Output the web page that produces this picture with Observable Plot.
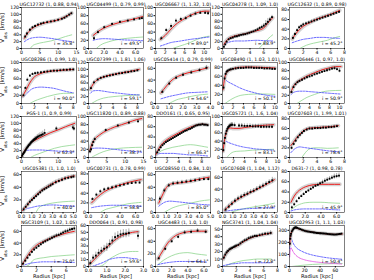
<!DOCTYPE html>
<html><head><meta charset="utf-8">
<script src="https://cdn.jsdelivr.net/npm/d3@7"></script>
<script src="https://cdn.jsdelivr.net/npm/@observablehq/plot@0.6"></script>
<style>
body{margin:0;background:#fff;}
#chart{position:relative;width:374px;height:280px;font-family:"DejaVu Sans",sans-serif;overflow:hidden;background:#fff}
.pn{position:absolute}
.ylab{position:absolute;font-size:5.4px;white-space:nowrap;transform:translate(-50%,-50%) rotate(-90deg);line-height:1}
.ylab sub{font-size:4px}
</style></head><body><div id="chart"></div><script>
const names = ["UGC12732 (1, 0.88, 0.94)","UGC04499 (1, 0.79, 0.99)","UGC06667 (1, 1.32, 1.0)","UGC04278 (1, 1.09, 1.0)","UGC12632 (1, 0.89, 0.98)",
"UGC08286 (1, 0.99, 1.0)","UGC07399 (1, 1.81, 1.06)","UGC05414 (1, 0.79, 0.99)","UGC08490 (1, 1.03, 1.01)","UGC06446 (1, 0.97, 1.0)",
"PGS-1 (1, 0.9, 0.99)","UGC11820 (1, 0.89, 0.88)","DDO161 (1, 0.65, 0.95)","UGC05721 (1, 1.6, 1.04)","UGC07603 (1, 1.99, 1.01)",
"UGC05381 (1, 1.0, 1.0)","UGC00731 (1, 0.78, 0.99)","UGC08550 (1, 0.84, 1.0)","UGC07608 (1, 1.04, 1.12)","D631-7 (1, 0.98, 0.78)",
"NGC3109 (1, 1.02, 1.05)","DDO064 (1, 0.91, 0.98)","UGC4483 (1, 1.0, 1.0)","NGC3741 (1, 1.04, 1.04)","UGC02953 (1, 1.1, 1.03)"];
const incl = [35.8,49.5,89.0,88.9,45.2, 90.0,59.1,54.6,50.1,50.9, 62.3,38.7,66.3,83.1,78.4, 40.0,58.8,85.0,27.9,45.9, 75.0,59.6,64.1,72.8,50.4];
const xDom = [[0,15],[0,7],[0,11.3],[0,8],[0,8], [0,8.5],[0,9],[0,4],[0,10.5],[0,11], [0,15],[0,15],[0,9.5],[0,10],[0,8], [0,5.3],[0,7],[0,5],[0,5.3],[0,7], [0,7.4],[0,3],[0,6.8],[0,8],[0,72]];
const xTicks = [[0,5,10,15],[0,2,4,6],[0,2,4,6,8,10],[0,2,4,6,8],[0,2,4,6,8], [0,2,4,6,8],[0,2,4,6,8],[0,1,2,3,4],[0,2,4,6,8,10],[0,2,4,6,8,10], [0,5,10,15],[0,5,10,15],[0,2,4,6,8],[0,2,4,6,8,10],[0,2,4,6,8], [0,1,2,3,4,5],[0,2,4,6],[0,1,2,3,4,5],[0,1,2,3,4,5],[0,2,4,6], [0,2,4,6],[0,1,2,3],[0,2,4,6],[0,2,4,6,8],[0,20,40,60]];
const yDom = [[0,120],[0,100],[0,100],[0,120],[0,85], [0,100],[0,120],[0,70],[0,90],[0,100], [0,120],[0,100],[0,80],[0,100],[0,85], [0,65],[0,85],[0,65],[0,70],[0,80], [0,70],[0,60],[0,65],[0,55],[0,340]];
const yTicks = [[0,20,40,60,80,100,120],[0,20,40,60,80,100],[0,20,40,60,80,100],[0,20,40,60,80,100,120],[0,20,40,60,80],
[0,20,40,60,80,100],[0,20,40,60,80,100,120],[0,20,40,60],[0,20,40,60,80],[0,20,40,60,80,100],
[0,20,40,60,80,100,120],[0,20,40,60,80,100],[0,20,40,60,80],[0,20,40,60,80,100],[0,20,40,60,80],
[0,20,40,60],[0,20,40,60,80],[0,20,40,60],[0,20,40,60],[0,20,40,60,80],
[0,20,40,60],[0,10,20,30,40,50,60],[0,20,40,60],[0,10,20,30,40,50],[0,100,200,300]];

// observed points: [radius, velocity, error]
const obs = [
[[1,35,3],[1.5,44,3],[2.3,55,3],[3,62,3],[3.7,66,3],[4.5,70,3],[5.3,73,3],[6,75,3],[7,77,3],[8,79,3],[9,81,3],[10,84,3],[11,87,3],[11.7,90,3],[12.3,94,3],[13,99,3],[13.6,103,3]],
[[0.7,25,5],[1.2,40,4],[2,52,3],[3,60,3],[4,65,3],[5,68,3],[5.8,71,3],[6.5,73,3],[6.8,74,3]],
[[1.2,25,4],[2.2,45,4],[3.2,55,5],[4.2,68,4],[5.2,72,4],[6.2,74,4],[7.2,80,4],[8.2,85,4],[9.2,87,4],[10.2,87,4],[10.8,86,4]],
[[0.2,5,3],[0.4,12,3],[0.6,20,3],[0.9,27,3],[1.2,30,3],[1.5,32,3],[1.8,35,3],[2.1,36,3],[2.4,38,3],[2.7,40,3],[3,41,3],[3.3,42,3],[3.6,44,3],[3.9,46,3],[4.2,48,3],[4.5,50,3],[4.8,53,3],[5.1,56,4],[5.4,60,4],[5.7,63,5],[6,67,6],[6.3,72,10],[6.6,78,10],[6.9,85,6],[7.2,92,5]],
[[0.5,22,4],[0.8,30,3],[1.1,38,3],[1.4,44,3],[1.7,47,3],[2,50,3],[2.4,52,3],[2.8,54,3],[3.2,56,3],[3.6,58,3],[4,60,3],[4.4,62,3],[4.8,64,3],[5.2,66,3],[5.6,68,3],[6,70,3],[6.4,72,3],[6.8,74,3],[7.2,76,3]],
[[0.3,20,3],[0.6,38,3],[0.9,58,4],[1.3,68,3],[1.7,72,3],[2.1,74,3],[2.5,75,3],[3,76,3],[3.5,77,3],[4,78,3],[4.5,79,3],[5,80,3],[5.5,80,3],[6,81,3],[6.5,82,3],[7,82,3],[7.5,83,3],[8,83,3]],
[[0.4,45,4],[0.9,62,4],[1.5,70,3],[2,75,3],[2.5,78,3],[3,80,3],[3.5,82,3],[4,84,3],[4.5,86,3],[5,88,3],[5.5,89,3],[6,91,3],[6.5,92,3],[7,94,3],[7.5,95,3],[8,97,3]],
[[0.5,20,3],[1,34,3],[1.5,44,3],[2,49,3],[2.6,53,3],[3.2,57,3],[3.7,61,4]],
[[0.2,35,4],[0.4,55,4],[0.6,65,4],[0.8,70,3],[1,72,3],[1.3,74,3],[1.6,75,3],[2,76,3],[2.5,77,3],[3,78,3],[3.5,78,3],[4,78,3],[4.5,79,3],[5,79,3],[5.5,79,3],[6,78,3],[6.5,78,3],[7,78,3],[7.5,78,3],[8,77,3],[8.5,77,3],[9,77,3],[9.5,76,3],[10,76,3]],
[[0.4,28,4],[0.8,40,4],[1.2,47,3],[1.6,52,3],[2,55,3],[2.5,58,3],[3,61,3],[3.5,64,3],[4,66,3],[4.5,68,3],[5,71,3],[5.5,73,3],[6,75,3],[6.5,77,3],[7,79,3],[7.5,81,4],[8,83,4],[8.5,85,4],[9,86,4],[9.5,84,5],[10,80,5]],
[[0.2,5,3],[0.4,10,3],[0.6,13,3],[0.8,16,3],[1,20,3],[1.2,23,3],[1.4,27,3],[1.6,30,3],[1.8,33,4],[2,36,4],[2.2,38,4],[2.4,41,4],[2.6,44,4],[2.8,46,5],[3,48,5],[3.2,50,5],[3.4,52,5],[3.6,54,6],[3.8,55,6],[4,57,6],[4.3,60,7],[4.6,62,7],[5,64,8],[5.4,66,8],[5.8,68,9],[6.3,72,10],[9.5,85,5],[14,88,8],[14.3,85,8]],
[[0.4,15,5],[0.7,20,5],[1,30,5],[1.3,38,4],[1.7,45,4],[4.7,67,3],[8,78,3],[11,85,3],[13.5,88,4]],
[[0.3,10,3],[0.6,15,3],[0.9,20,3],[1.2,24,2],[1.5,27,2],[1.8,30,2],[2.1,32,2],[2.4,34,2],[2.7,36,2],[3,38,2],[3.3,40,2],[3.6,42,2],[3.9,44,2],[4.2,46,2],[4.5,48,2],[4.8,50,2],[5.1,52,2],[5.4,53,2],[5.7,55,2],[6,56,2],[6.3,58,2],[6.6,60,2],[6.9,62,2],[7.2,63,2],[7.5,64,2],[7.8,64,2],[8.1,65,2],[8.4,64,2],[8.7,64,2],[9,63,2]],
[[0.15,18,5],[0.3,35,5],[0.45,48,5],[0.6,58,5],[0.75,65,5],[0.9,70,5],[1.05,74,5],[1.2,76,5],[1.35,78,5],[1.5,79,5],[1.65,80,5],[1.8,80,5],[2.2,79,5],[3,78,5],[3.5,78,5],[4,77,5],[4.5,77,5],[5,77,5],[5.5,76,5],[6,76,5],[6.5,76,5],[7,75,5],[7.5,75,5],[8,75,5],[8.5,75,5],[9,75,5]],
[[0.3,20,4],[0.6,28,4],[0.9,35,4],[1.2,42,3],[1.5,47,3],[1.8,51,3],[2.1,55,3],[2.5,58,3],[2.9,60,3],[3.3,60,3],[3.7,61,3],[4.1,61,3],[4.5,61,3],[4.9,62,3],[5.3,62,3],[5.7,63,3],[6.1,63,3],[6.5,64,3],[6.9,65,3]],
[[0.2,5,3],[0.4,9,3],[0.6,13,3],[0.8,17,3],[1,20,3],[1.2,23,3],[1.4,26,3],[1.6,29,3],[1.8,32,3],[2,35,3],[2.2,37,3],[2.4,39,3],[2.6,41,3],[2.8,43,3],[3,45,3],[3.3,48,3],[3.6,50,3],[3.9,52,3],[4.2,54,3],[4.5,55,3],[4.8,56,3],[5,57,3]],
[[0.5,28,3],[1,37,3],[1.5,44,3],[2,48,3],[2.5,50,3],[3,52,3],[3.5,54,3],[4,56,3],[4.5,58,3],[5,60,3],[5.5,61,3],[6,62,3],[6.5,62,3]],
[[0.4,22,3],[0.8,35,3],[1.2,43,3],[1.6,46,3],[2,47,3],[2.4,48,3],[2.8,49,3],[3.2,50,3],[3.6,51,3],[4,52,3],[4.4,53,3],[4.8,53,3]],
[[0.3,5,4],[0.6,10,4],[0.9,15,4],[1.2,20,4],[1.5,24,4],[1.8,27,4],[2.1,30,4],[2.4,32,4],[2.7,35,4],[3,37,4],[3.3,40,4],[3.6,43,4],[3.9,46,4],[4.2,49,4],[4.5,52,4],[4.8,55,5]],
[[0.3,10,3],[0.6,16,3],[0.9,22,3],[1.2,28,3],[1.5,32,3],[1.8,36,3],[2.1,40,3],[2.4,43,3],[2.7,46,3],[3,49,3],[3.3,52,3],[3.6,54,3],[3.9,57,3],[4.2,59,4],[4.5,62,4],[4.8,64,4],[5.1,66,4],[5.4,68,4],[5.7,70,5],[6,71,5],[6.3,72,5]],
[[0.2,5,3],[0.5,10,3],[0.8,15,3],[1.1,20,3],[1.4,25,3],[1.7,29,3],[2,32,3],[2.3,35,3],[2.6,38,3],[2.9,41,3],[3.2,43,3],[3.5,45,3],[3.8,47,3],[4.1,49,3],[4.4,51,3],[4.7,53,3],[5,54,3],[5.3,56,3],[5.6,58,3],[5.9,60,3],[6.2,61,3],[6.5,63,3],[6.8,64,3],[7.1,65,3]],
[[0.1,5,4],[0.25,13,4],[0.4,16,5],[0.55,20,5],[0.7,23,5],[0.85,26,5],[1,28,6],[1.15,33,6],[1.3,38,6],[1.45,43,6],[1.6,45,6],[1.75,47,6],[1.9,48,6],[2.05,48,6],[2.2,49,6],[2.7,45,6]],
[[0.4,13,2],[1.2,28,3],[2,40,3],[2.8,47,3],[3.6,54,3],[4.4,55,3],[5.2,57,3],[6.2,55,3]],
[[0.2,12,3],[0.4,16,3],[0.6,19,3],[0.8,21,2],[1,23,2],[1.2,24,2],[1.4,25,2],[1.6,26,2],[1.8,27,2],[2,28,2],[2.3,29,2],[2.6,31,2],[2.9,33,2],[3.2,35,2],[3.5,36,2],[3.8,38,2],[4.1,39,2],[4.4,40,2],[4.7,41,2],[5,41,2],[5.4,42,2],[5.8,43,2],[6.2,44,2],[6.6,44,2],[7,45,3]],
[[0.5,190,10],[1,230,10],[1.5,255,8],[2,270,6],[3,290,5],[4,300,5],[5,310,5],[6,318,5],[7,322,5],[8,324,5],[9,323,5],[10,320,5],[12,315,5],[14,310,5],[16,305,5],[18,300,5],[20,296,5],[22,292,5],[24,290,5],[26,288,5],[28,286,5],[30,284,5],[32,282,5],[34,280,5],[36,278,5],[38,277,5],[40,276,5],[42,275,5],[44,274,5],[46,273,5],[48,272,5],[50,270,5],[52,268,5],[54,267,5],[56,266,5],[58,265,5],[60,265,5],[62,266,5],[64,268,5],[66,270,5],[68,272,5]]
];

// model fit (red)
const fit = [
[[0.8,30],[1.5,43],[2.5,55],[4,66],[6,74],[8,79],[10,84],[12,93],[13.7,104]],
[[0.6,32],[1.5,45],[3,58],[4.5,66],[6,73],[6.9,78]],
[[1,22],[2,32],[3,45],[4,57],[5,66],[6,73],[7,80],[8,85],[9,89],[10,91],[11,91]],
[[0.2,12],[0.7,26],[1.5,35],[2.5,40],[3.5,44],[4.5,50],[5.5,55],[6,60],[6.5,72],[7.3,90]],
[[0.4,20],[1,32],[2,46],[3,54],[4,61],[5,66],[6,71],[7.3,79]],
[[0.2,18],[0.7,33],[1.2,48],[1.8,62],[2.5,70],[3.5,76],[4.5,79],[6,81],[8,83]],
[[0.3,42],[0.8,58],[1.5,70],[2.5,78],[3.5,83],[5,88],[6.5,93],[8.3,100]],
[[0.4,18],[0.8,30],[1.2,40],[1.7,47],[2.3,52],[3,56],[3.8,61]],
[[0.1,30],[0.4,55],[0.8,68],[1.5,74],[2.5,78],[4,80],[6,80],[8,79],[10,78]],
[[0.3,28],[0.8,42],[1.5,52],[2.5,60],[3.5,67],[5,75],[6.5,82],[8,87],[9.5,90],[10.3,90]],
[[0.1,4],[0.8,20],[1.5,30],[2.5,42],[4,52],[6,63],[8,73],[10,81],[12,90],[14.5,100]],
[[0.3,15],[0.8,30],[1.5,42],[3,55],[5,66],[7,74],[9,80],[11,86],[13,92],[14.5,95]],
[[0.1,6],[0.5,16],[1,25],[2,35],[3,42],[4,48],[5,54],[6,59],[7,63],[8,65],[9,64]],
[[0.1,15],[0.4,45],[0.7,62],[1,70],[1.5,72],[2,71],[3,71],[4,73],[5,75],[6,77],[7,78],[8,79],[9.3,80]],
[[0.2,25],[0.6,32],[1,40],[1.5,48],[2,55],[2.5,59],[3,61],[4,62],[5,63],[6,64],[7.1,66]],
[[0.1,3],[0.5,11],[1,21],[1.5,29],[2,36],[2.5,41],[3,46],[3.5,50],[4,53],[4.5,56],[5.1,58]],
[[0.4,20],[1,30],[1.5,37],[2,43],[3,51],[4,57],[5,62],[6,66],[6.7,68]],
[[0.3,15],[0.7,30],[1.1,42],[1.6,46],[2.2,47],[3,49],[4,53],[4.9,56]],
[[0.2,4],[1,17],[2,28],[3,37],[4,46],[5,56]],
[[0.2,20],[0.6,32],[1,40],[1.5,46],[2,50],[3,54],[4,55],[5,55],[6.4,55]],
[[0.1,3],[0.5,12],[1,22],[1.5,30],[2,36],[3,43],[4,49],[5,53],[6,57],[7.1,60]],
[[0.05,3],[0.3,10],[0.6,18],[0.9,26],[1.2,33],[1.5,40],[1.8,45],[2.1,48],[2.4,50],[2.7,51]],
[[0.3,12],[1,27],[1.5,37],[2,44],[2.5,49],[3,52],[4,55],[5,56],[6.3,56]],
[[0.1,10],[0.5,17],[1,22],[1.5,25],[2,27],[3,33],[4,38],[5,41],[6,43],[7.1,45]],
[[0.3,180],[1,240],[2,275],[4,305],[6,318],[8,320],[12,312],[20,296],[30,285],[40,276],[50,270],[60,266],[69,270]]
];

// blue dashed component
const blue = [
[[0.8,20],[2,28],[3.5,32],[5,33],[7,31],[9,28],[11,24],[13.7,20]],
[[0.6,20],[1,22],[2,24],[3,23],[4.5,21],[6,20],[6.9,19]],
[[1,6],[2,10],[3,14],[5,18],[7,22],[9,25],[11,28]],
[[0.2,8],[0.6,15],[1.2,20],[2,22],[3,22],[4,23],[5,24],[6,23],[7.3,22]],
[[0.4,12],[1,15],[2,19],[3,21],[4,23],[5,23],[6,22],[7.3,21]],
[[0.2,15],[0.7,22],[1.3,32],[2,38],[3,40],[4,39],[5,37],[6,33],[7,29],[8,26]],
[[0.3,30],[0.8,37],[1.5,38],[2.5,36],[3.5,33],[5,30],[6.5,27],[8.3,25]],
[[0.4,8],[1,12],[1.6,15],[2.3,18],[3,19],[3.8,20]],
[[0.1,50],[0.5,52],[1,48],[2,42],[3,36],[4,31],[5,27],[6,24],[7,21],[8,19],[9,17],[10,16]],
[[0.3,22],[1,28],[2,30],[3,30],[4,29],[5,28],[6,27],[7,26],[8,25],[10.3,23]],
[[0.2,10],[0.8,18],[1.5,21],[3,22],[5,22],[8,20],[11,18],[14.5,16]],
[[0.3,18],[1,22],[2.5,23],[5,22],[8,19],[11,16],[14.5,13]],
[[0.1,3],[0.5,7],[1,8],[2,8],[3,8],[4,7],[5,6],[6,5],[7,5],[8,4],[9,3]],
[[0.1,40],[0.5,40],[1,37],[2,32],[3,28],[4,25],[5,23],[6,21],[7,20],[8,19],[9.3,18]],
[[0.2,10],[0.6,16],[1,20],[1.5,22],[2,21],[3,19],[4,17],[5,15],[6,13],[7.1,12]],
[[0.1,3],[0.5,6],[1,8],[1.5,10],[2,11],[3,12],[4,11],[5.1,10]],
[[0.4,10],[1,12],[2,14],[3,15],[4,15],[5,14],[6.7,13]],
[[0.3,10],[0.8,16],[1.3,18],[2,17],[3,15],[4,13],[4.9,12]],
[[0.2,2],[1,4],[2,6],[3,7],[4,8],[5,8]],
[[0.2,3],[0.6,5],[1,6],[2,7],[3,7],[4,7],[5,6],[6.4,5]],
[[0.1,1],[0.5,3],[1,5],[2,7],[3,8],[4,8],[5,8],[6,7],[7.1,7]],
[[0.2,0],[0.5,3],[0.8,6],[1.1,10],[1.4,12],[1.7,13],[2,13],[2.3,12],[2.7,11]],
[[0.3,3],[1,5],[2,7],[3,8],[4,8],[5,8],[6.3,7]],
[[0.1,1],[1,3],[2,4],[3,5],[4,5],[5,5],[6,5],[7.1,5]],
[[0.3,150],[1,250],[2,240],[4,205],[6,180],[10,150],[15,130],[20,115],[30,95],[40,82],[50,72],[60,65],[69,60]]
];

// green component
const green = [
[[2.4,0],[3,8],[4,13],[6,18],[8,22],[10,28],[12,35],[13.7,40]],
[[1,0],[1.5,8],[2.5,16],[3.5,21],[5,25],[6.9,28]],
[[3.5,0],[5,6],[7,14],[8.5,22],[10,28],[11,30]],
[[5.3,0],[6,15],[6.6,28],[7.3,40]],
[[1.5,0],[2.5,7],[3.5,11],[4.5,14],[5.5,17],[6.5,22],[7.3,25]],
[[1.3,0],[2,6],[3,12],[4,17],[5,21],[6,24],[7,25],[8,25]],
[[0.5,0],[1.5,10],[2.5,16],[4,20],[6,23],[8.3,25]],
[[1,0],[1.5,6],[2.2,10],[3,14],[3.8,16]],
[[0.5,0],[1.5,8],[2.5,14],[3.5,18],[5,20],[7,21],[10,20]],
[[1.5,0],[2.5,8],[3.5,15],[5,22],[6.5,28],[8,31],[10.3,32]],
[[2.5,0],[3.5,6],[5,12],[7,20],[9,27],[11,32],[13,35],[14.5,37]],
[[0.8,0],[2,6],[4,14],[6,19],[8,22],[11,24],[14.5,25]],
[[0.1,5],[1,13],[2,17],[3,20],[4,22],[5,24],[6,25],[7,24],[8,22],[9,20]],
[[0.8,0],[1.5,10],[2.5,15],[4,16],[5.5,18],[7,19],[9.3,20]],
[[1.8,0],[2.3,10],[2.8,17],[3.5,20],[4.5,20],[5.5,19],[7.1,20]],
[[1.4,0],[1.7,8],[2.2,12],[3,15],[4,17],[5.1,18]],
[[1.5,0],[2,5],[3,10],[4,14],[5,18],[6,20],[6.7,21]],
[[0.8,0],[1.5,7],[2.2,11],[3,14],[4,18],[4.9,20]],
[[0.8,0],[1.5,4],[2.5,8],[3.5,11],[4.5,14],[5,16]],
[[0.2,5],[0.6,10],[1,14],[1.5,17],[2,19],[3,20],[4,20],[5,19],[6.4,18]],
[[0.6,0],[1.2,5],[1.5,10],[2,13],[3,15],[4,17],[5,18],[6,19],[7.1,20]],
[[0.6,0],[0.85,3],[1.1,10],[1.4,15],[1.7,19],[2,21],[2.4,22],[2.7,22]],
[[0.3,3],[1,10],[2,17],[3,21],[4,22],[5,20],[6.3,18]],
[[0.4,0],[1,3],[2,6],[3,8],[4,9],[5,10],[6,10],[7.1,10]],
[[3,0],[10,5],[20,12],[30,17],[40,20],[50,22],[60,24],[69,25]]
];

// magenta dotted component (last panel only)
const magenta = {24: [[0.3,80],[1,140],[2,155],[3,145],[5,120],[8,95],[12,75],[20,55],[30,42],[40,34],[50,28],[60,24],[69,20]]};

const chart = document.getElementById("chart");
const PW = 55, PH = 41, X0 = 20.5, DX = 67, Y0 = 7, DY = 54.5;
const pt = a => a.map(([x, y]) => ({x, y}));

for (let p = 0; p < 25; p++) {
  const c = p % 5, r = Math.floor(p / 5);
  const mL = 14, mR = 4, mT = 7, mB = r === 4 ? 14 : 8;
  const o = obs[p].map(([x, y, e]) => ({x, y, y1: y - e, y2: y + e}));
  const marks = [
    Plot.line(pt(green[p]), {x: "x", y: "y", stroke: "#8fd68f", strokeWidth: 0.8, curve: "monotone-x", clip: true}),
    Plot.line(pt(blue[p]), {x: "x", y: "y", stroke: "#2a2aff", strokeWidth: 0.7, strokeDasharray: "2,1.2", curve: "monotone-x", clip: true}),
  ];
  if (magenta[p]) marks.push(Plot.line(pt(magenta[p]), {x: "x", y: "y", stroke: "#e040e0", strokeWidth: 0.8, strokeDasharray: "0.8,0.9", curve: "monotone-x", clip: true}));
  marks.push(
    Plot.line(pt(fit[p]), {x: "x", y: "y", stroke: "#c8c8c8", strokeWidth: 4, strokeOpacity: 0.8, curve: "monotone-x", clip: true}),
    Plot.line(pt(fit[p]), {x: "x", y: "y", stroke: "#ee1c1c", strokeWidth: 1, curve: "monotone-x", clip: true}),
    Plot.ruleX(o, {x: "x", y1: "y1", y2: "y2", stroke: "#444", strokeWidth: 0.45, clip: true}),
    Plot.dot(o, {x: "x", y: "y", symbol: "square", r: 1.05, fill: "#000", stroke: null, clip: true}),
    Plot.frame({stroke: "#000", strokeWidth: 0.5}),
    Plot.text([names[p]], {frameAnchor: "top", dy: -1.5, lineAnchor: "bottom", fontSize: 4.6, fill: "#000"}),
    Plot.text(["i = " + incl[p].toFixed(1) + "°"], {frameAnchor: "bottom-right", dx: -2, dy: -4, fontSize: 4.6, fill: "#000", textAnchor: "end"})
  );
  if (r === 4) marks.push(Plot.text(["Radius [kpc]"], {frameAnchor: "bottom", dy: 11, fontSize: 5.2, fill: "#000"}));
  const svg = Plot.plot({
    width: mL + PW + mR, height: mT + PH + mB,
    marginLeft: mL, marginRight: mR, marginTop: mT, marginBottom: mB,
    style: {fontSize: "4.6px", fontFamily: "'DejaVu Sans', sans-serif", background: "transparent", overflow: "visible"},
    x: {domain: xDom[p], ticks: xTicks[p], tickSize: 1.5, tickPadding: 1, label: null},
    y: {domain: yDom[p], ticks: yTicks[p], tickSize: 1.5, tickPadding: 1, label: null},
    marks
  });
  const wrap = document.createElement("div");
  wrap.className = "pn";
  wrap.style.left = (X0 + c * DX - mL) + "px";
  wrap.style.top = (Y0 + r * DY - mT) + "px";
  wrap.appendChild(svg);
  chart.appendChild(wrap);
  if (c === 0) {
    const yl = document.createElement("div");
    yl.className = "ylab";
    yl.innerHTML = "V<sub>obs</sub> [km/s]";
    yl.style.left = "4px";
    yl.style.top = (Y0 + r * DY + PH / 2) + "px";
    chart.appendChild(yl);
  }
}
</script></body></html>
